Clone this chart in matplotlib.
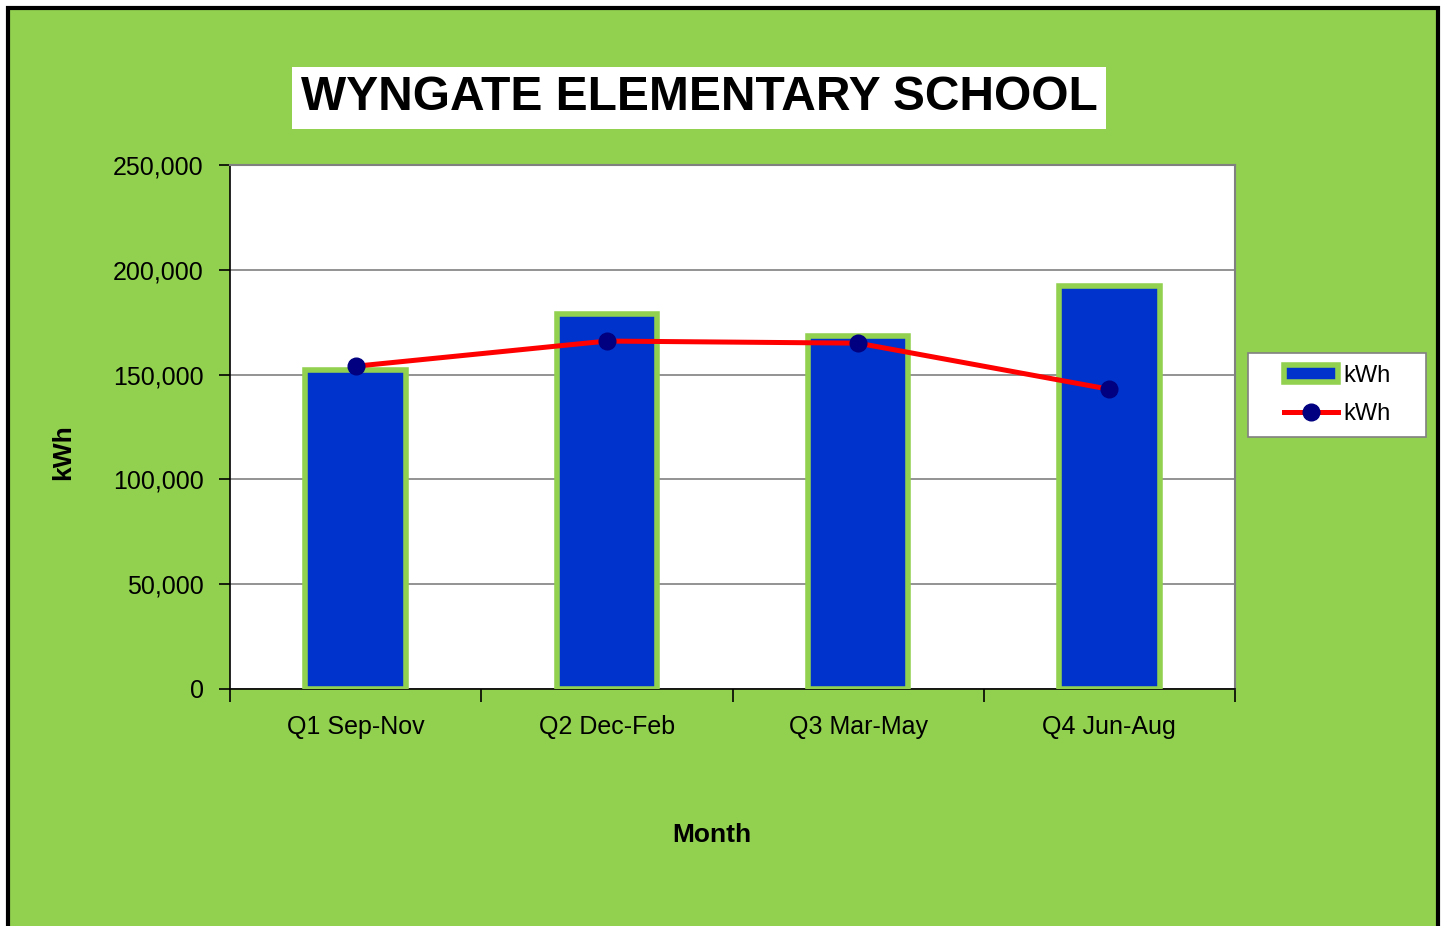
import matplotlib
matplotlib.use("Agg")
import matplotlib.pyplot as plt
from matplotlib.font_manager import FontProperties
from matplotlib.patches import Rectangle, Patch
from matplotlib.lines import Line2D
from matplotlib.ticker import FuncFormatter, MultipleLocator

# データ
quarters = ["Q1 Sep-Nov", "Q2 Dec-Feb", "Q3 Mar-May", "Q4 Jun-Aug"]
kwh_bars = [152000, 179000, 168500, 192500]
kwh_line = [154000, 166000, 165000, 143000]

GREEN = "#92D050"
BLUE = "#0033CC"
NAVY = "#000080"

tickfont = FontProperties(family="Liberation Sans", size=18)
bold = FontProperties(family="Liberation Sans", weight="bold", size=19)
regular = FontProperties(family="Liberation Sans", size=17)

fig = plt.figure(figsize=(14.44, 9.26), dpi=100)
fig.patch.set_facecolor("white")

# 外枠 (下端ははみ出させる)
W, H = 1444, 926
frame = Rectangle((8 / W, -0.05), (1438 - 8) / W, (H - 8) / H + 0.05,
                  transform=fig.transFigure, facecolor=GREEN,
                  edgecolor="black", linewidth=3, zorder=-10)
fig.patches.append(frame)

ax = fig.add_axes([230 / W, 1 - 689 / H, (1235 - 230) / W, (689 - 165) / H])
ax.set_facecolor("white")

x = list(range(len(quarters)))
ax.bar(x, kwh_bars, width=0.4, color=BLUE, edgecolor=GREEN, linewidth=4, zorder=3)
ax.plot(x, kwh_line, color="red", linewidth=3.6, marker="o", markersize=12,
        markerfacecolor=NAVY, markeredgecolor=NAVY, zorder=4)

ax.set_xlim(-0.5, 3.5)
ax.set_ylim(0, 250000)
ax.yaxis.set_major_locator(MultipleLocator(50000))
ax.yaxis.set_major_formatter(FuncFormatter(lambda v, p: f"{int(v):,}"))
ax.grid(axis="y", color="#808080", linewidth=1.2, zorder=1)

ax.set_xticks(x)
ax.set_xticklabels(quarters)
ax.tick_params(axis="x", length=0, pad=19)
ax.set_xticks([0.5, 1.5, 2.5, 3.5, -0.5], minor=True)
ax.tick_params(axis="x", which="minor", length=9, width=1.2, direction="out")
ax.tick_params(axis="y", length=8, width=1.2, direction="out", pad=11)
for lbl in ax.get_xticklabels() + ax.get_yticklabels():
    lbl.set_fontproperties(tickfont)

for s in ["top", "right"]:
    ax.spines[s].set_color("#808080")
    ax.spines[s].set_linewidth(1.5)
for s in ["left", "bottom"]:
    ax.spines[s].set_color("black")
    ax.spines[s].set_linewidth(1.2)

fig.text(712 / W, 1 - 835 / H, "Month", fontproperties=bold,
         ha="center", va="center")
fig.text(63 / W, 1 - 452 / H, "kWh", fontproperties=bold,
         ha="center", va="center", rotation=90)

fig.text(699 / W, 1 - 98 / H, "WYNGATE ELEMENTARY SCHOOL",
         fontproperties=FontProperties(family="Liberation Sans",
                                       weight="bold", size=34.5),
         ha="center", va="center",
         bbox=dict(facecolor="white", edgecolor="none", pad=6))

# 凡例の枠は自前で描く
legbox = Rectangle((1248 / W, 1 - 437 / H), (1426 - 1248) / W, (437 - 353) / H,
                   transform=fig.transFigure, facecolor="white",
                   edgecolor="#808080", linewidth=1.2, zorder=-5)
fig.patches.append(legbox)

handles = [
    Patch(facecolor=BLUE, edgecolor=GREEN, linewidth=4),
    Line2D([], [], color="red", linewidth=3.6, marker="o", markersize=12,
           markerfacecolor=NAVY, markeredgecolor=NAVY),
]
leg = fig.legend(handles, ["kWh", "kWh"], loc="center",
                 bbox_to_anchor=(1337 / W, 1 - 395 / H),
                 frameon=False, handlelength=2.3,
                 handletextpad=0.2, labelspacing=0.7, borderpad=0.6,
                 prop=regular)

fig.savefig("out.png", dpi=100)
